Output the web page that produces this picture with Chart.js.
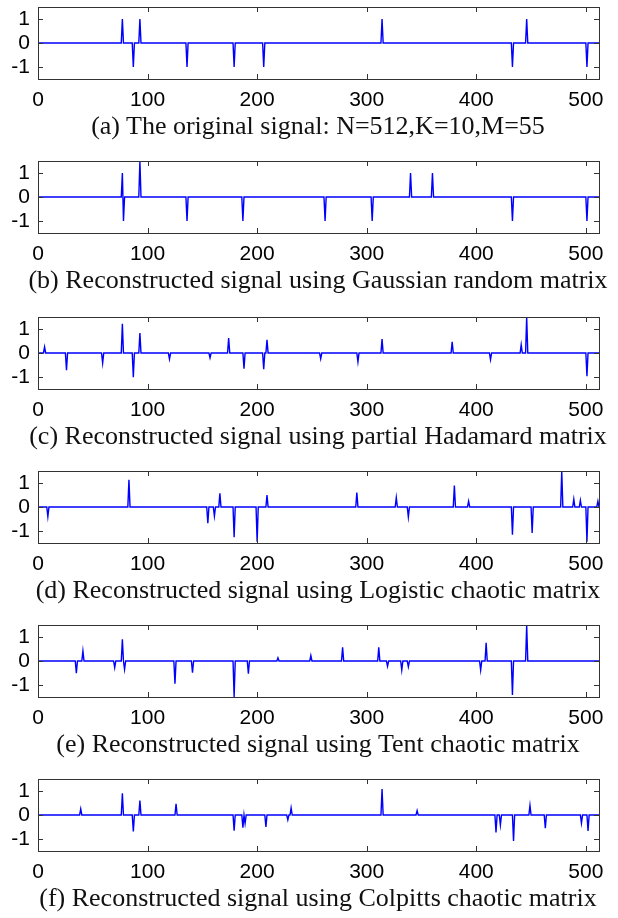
<!DOCTYPE html>
<html>
<head>
<meta charset="utf-8">
<script src="https://cdn.jsdelivr.net/npm/chart.js@4.4.1/dist/chart.umd.min.js"></script>
<style>
  body { margin: 0; background: #fff; width: 618px; height: 918px; position: relative; overflow: hidden; }
  .panel { position: absolute; left: 0; width: 618px; }
  .panel canvas { position: absolute; left: 0; top: 0; }
  .caption {
    position: absolute; left: 18px; width: 600px; text-align: center;
    font-family: "Liberation Serif", "Times New Roman", serif; font-size: 26px;
    line-height: 30px; color: #111; white-space: nowrap;
  }
</style>
</head>
<body>
<script>
const N = 512;
const xTicks = [0, 100, 200, 300, 400, 500];
const yTicks = [-1, 0, 1];

const captions = [
  '(a) The original signal: N=512,K=10,M=55',
  '(b) Reconstructed signal using Gaussian random matrix',
  '(c) Reconstructed signal using partial Hadamard matrix',
  '(d) Reconstructed signal using Logistic chaotic matrix',
  '(e) Reconstructed signal using Tent chaotic matrix',
  '(f) Reconstructed signal using Colpitts chaotic matrix'
];

// nonzero samples (index, amplitude) of each signal
const posA = [77, 87, 93, 136, 179, 206, 314, 433, 446, 501];
const ampA = [1, -1, 1, -1, -1, -1, 1, -1, 1, -1];

const posB = [77, 78, 93, 136, 187, 262, 305, 340, 360, 433, 501];
const ampB = [1, -1, 1.5, -1, -1, -1, -1, 1, 1, -1, -1];

const posC = [6, 26, 59, 77, 87, 93, 120, 157, 174, 188, 206, 209, 258, 292, 314, 378, 413, 441, 446, 501];
const ampC = [0.25, -0.72, -0.42, 1.22, -1.01, 0.83, -0.25, -0.2, 0.62, -0.65, -0.67, 0.55, -0.24, -0.37, 0.58, 0.47, -0.28, 0.35, 1.5, -0.97];

const posD = [9, 83, 155, 161, 166, 179, 200, 209, 291, 327, 338, 380, 393, 433, 451, 478, 489, 495, 501, 511];
const ampD = [-0.4, 1.13, -0.68, -0.38, 0.57, -1.26, -1.45, 0.5, 0.6, 0.39, -0.42, 0.89, 0.24, -1.15, -1.08, 1.5, 0.33, 0.28, -1.45, 0.24];

const posE = [35, 41, 70, 77, 79, 125, 141, 179, 192, 219, 249, 278, 311, 319, 332, 338, 404, 409, 433, 446];
const ampE = [-0.51, 0.42, -0.28, 0.9, -0.35, -0.95, -0.49, -1.5, -0.53, 0.13, 0.23, 0.57, 0.57, -0.22, -0.38, -0.24, -0.38, 0.76, -1.42, 1.5];

const posF = [39, 77, 87, 93, 126, 179, 187, 189, 208, 228, 231, 314, 346, 418, 422, 434, 449, 463, 496, 502];
const ampF = [0.25, 0.9, -0.69, 0.6, 0.47, -0.65, -0.53, -0.35, -0.5, -0.2, 0.3, 1.08, 0.18, -0.73, -0.42, -1.08, 0.4, -0.55, -0.34, -0.66];

const signals = [[posA, ampA], [posB, ampB], [posC, ampC], [posD, ampD], [posE, ampE], [posF, ampF]];

// layout of the six panels (top of each plot box)
const boxTops = [7, 161, 317, 471, 625, 779];
const boxH = 72;
const boxLeft = 38;
const boxRight = 599;
const canvasH = 112;

function buildSignal(pos, amp) {
  const s = [];
  for (let i = 1; i <= N; i++) s.push({ x: i, y: 0 });
  pos.forEach((p, k) => { s[p - 1].y = amp[k]; });
  return s;
}

// matlab style box with inward ticks
const boxPlugin = {
  id: 'box',
  afterDraw(chart) {
    const { ctx, chartArea: a, scales: { x, y } } = chart;
    ctx.save();
    ctx.strokeStyle = '#333';
    ctx.lineWidth = 1;
    ctx.beginPath();
    xTicks.forEach(v => {
      const px = Math.round(x.getPixelForValue(v)) + 0.5;
      ctx.moveTo(px, a.bottom); ctx.lineTo(px, a.bottom - 5);
      ctx.moveTo(px, a.top); ctx.lineTo(px, a.top + 5);
    });
    yTicks.forEach(v => {
      const py = Math.round(y.getPixelForValue(v)) + 0.5;
      ctx.moveTo(a.left, py); ctx.lineTo(a.left + 5, py);
      ctx.moveTo(a.right, py); ctx.lineTo(a.right - 5, py);
    });
    ctx.stroke();
    ctx.strokeRect(Math.round(a.left) + 0.5, Math.round(a.top) + 0.5, Math.round(a.right - a.left), Math.round(a.bottom - a.top));
    ctx.restore();
  }
};

const tickFont = { family: '"Liberation Sans", Arial, sans-serif', size: 21 };

signals.forEach((sig, i) => {
  const panel = document.createElement('div');
  panel.className = 'panel';
  panel.style.top = (boxTops[i] - 7) + 'px';
  panel.style.height = canvasH + 'px';
  const canvas = document.createElement('canvas');
  canvas.width = 618;
  canvas.height = canvasH;
  canvas.style.width = '618px';
  canvas.style.height = canvasH + 'px';
  panel.appendChild(canvas);
  document.body.appendChild(panel);

  const cap = document.createElement('div');
  cap.className = 'caption';
  cap.textContent = captions[i];
  cap.style.top = (boxTops[i] + boxH + 47 - 15) + 'px';
  document.body.appendChild(cap);

  new Chart(canvas.getContext('2d'), {
    type: 'line',
    data: {
      datasets: [{
        data: buildSignal(sig[0], sig[1]),
        borderColor: '#0000ff',
        borderWidth: 1.4,
        pointRadius: 0,
        tension: 0,
        fill: false
      }]
    },
    options: {
      responsive: false,
      animation: false,
      devicePixelRatio: 1,
      layout: { padding: { top: 7, right: 618 - boxRight, left: 0, bottom: 0 } },
      plugins: { legend: { display: false }, tooltip: { enabled: false } },
      scales: {
        x: {
          type: 'linear',
          min: 0,
          max: N,
          afterBuildTicks: s => { s.ticks = xTicks.map(v => ({ value: v })); },
          afterFit: s => { s.height = canvasH - 7 - boxH; s.paddingLeft = 0; s.paddingRight = 0; },
          grid: { display: false, drawTicks: false },
          border: { display: false },
          ticks: { font: tickFont, color: '#000', padding: 9, maxRotation: 0, autoSkip: false }
        },
        y: {
          min: -1.5,
          max: 1.5,
          afterBuildTicks: s => { s.ticks = yTicks.map(v => ({ value: v })); },
          afterFit: s => { s.width = boxLeft; s.paddingTop = 0; s.paddingBottom = 0; },
          grid: { display: false, drawTicks: false },
          border: { display: false },
          ticks: { font: tickFont, color: '#000', padding: 8 }
        }
      }
    },
    plugins: [boxPlugin]
  });
});
</script>
</body>
</html>
